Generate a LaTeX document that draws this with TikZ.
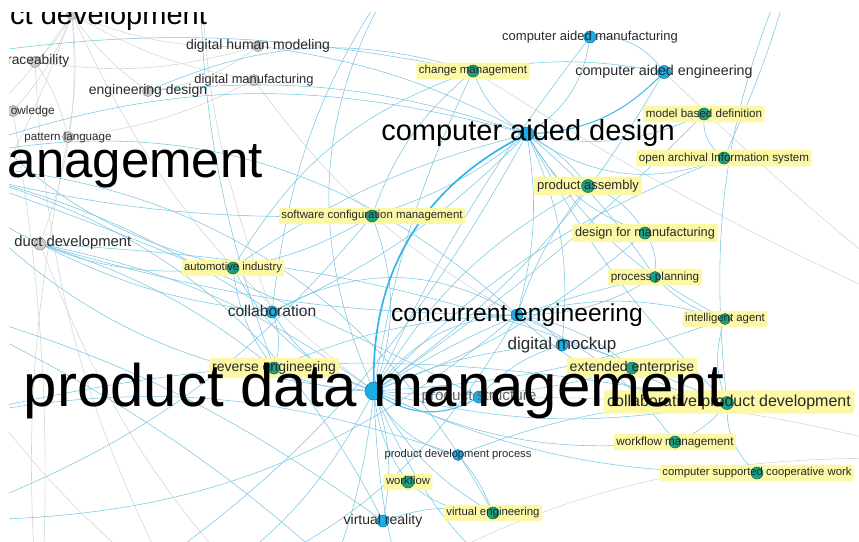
\documentclass[tikz,border=0pt]{standalone}
\usepackage{fontspec}
\setmainfont{Liberation Sans}
\definecolor{eblue}{RGB}{120,198,226}
\definecolor{egray}{RGB}{214,214,214}
\definecolor{nblue}{RGB}{30,172,228}
\definecolor{nteal}{RGB}{26,160,130}
\definecolor{ngray}{RGB}{205,205,205}
\definecolor{hly}{RGB}{252,248,165}
\definecolor{ltxt}{RGB}{40,40,40}
\tikzset{
  edge/.style={draw=eblue, line width=0.55pt},
  gedge/.style={draw=egray, line width=0.6pt},
  thickedge/.style={draw=nblue!90!white, line width=1.7pt},
  midedge/.style={draw=nblue!80!white, line width=1.1pt},
  dot/.style={circle, inner sep=0pt, minimum size=#1, line width=0.5pt},
  kwtext/.style={inner sep=0pt, text height=0.72em, text depth=0.2em, text=ltxt},
  hlbox/.style={fill=hly, text=hly, rounded corners=2pt, inner xsep=0.22em, inner ysep=0.26em, text height=0.72em, text depth=0.2em},
}
\newcommand\fs[1]{\fontsize{#1}{#1}\selectfont}
\def\kwmode{0}
% \KW{name}{x}{y}{diameter}{colour}{size}{label options}{text}{highlight}
\newcommand\KW[9]{%
  \ifcase\kwmode
    \coordinate (#1) at (#2,#3);%
  \or
    \ifnum#9=1 \node[node font=\fs{#6}, hlbox, at={(#1)}, #7] (#1-h) {#8};\fi
  \or
    \ifdim#4pt>0pt \node[dot=#4pt, fill=#5, draw=#5!65!black] (#1-c) at (#1) {};\fi
  \or
    \node[node font=\fs{#6}, kwtext, at={(#1)}, #7] (#1-l) {#8};%
  \fi}
\newcommand\kwlist{%
  \KW{pd}{72}{14}{11}{ngray}{29}{at={(10,16.5)}, anchor=west, text=black}{ct development}{0}%
  \KW{tr}{35}{62}{11}{ngray}{13.8}{at={(69.5,61)}, anchor=east}{raceability}{0}%
  \KW{kn}{13}{111}{11}{ngray}{11.8}{at={(55,111)}, anchor=east}{owledge}{0}%
  \KW{pl}{68}{137}{11}{ngray}{11.6}{}{pattern language}{0}%
  \KW{npd}{40}{244}{12}{ngray}{14.8}{at={(131.5,243)}, anchor=east}{duct development}{0}%
  \KW{dhm}{258}{46}{11}{ngray}{14}{}{digital human modeling}{0}%
  \KW{dm}{254}{80}{11}{ngray}{12.9}{}{digital manufacturing}{0}%
  \KW{ed}{148}{91}{11}{ngray}{14}{}{engineering design}{0}%
  \KW{cam}{590}{37}{12}{nblue}{13}{}{computer aided manufacturing}{0}%
  \KW{cae}{664}{72}{13}{nblue}{14.3}{}{computer aided engineering}{0}%
  \KW{dmu}{562}{345}{12}{nblue}{17}{}{digital mockup}{0}%
  \KW{collab}{272}{312}{12}{nblue}{15.6}{}{collaboration}{0}%
  \KW{pdp}{458}{455}{11}{nblue}{11.2}{}{product development process}{0}%
  \KW{vr}{383}{521}{12}{nblue}{14}{}{virtual reality}{0}%
  \KW{chm}{473}{71}{12}{nteal}{11.5}{}{change management}{1}%
  \KW{scm}{372}{216}{12}{nteal}{11.4}{}{software configuration management}{1}%
  \KW{mbd}{704}{114}{12}{nteal}{11.6}{}{model based definition}{1}%
  \KW{oais}{724}{158}{12}{nteal}{11.6}{}{open archival Information system}{1}%
  \KW{pa}{588}{186}{13}{nteal}{13}{}{product assembly}{1}%
  \KW{dfm}{645}{233}{12}{nteal}{12.7}{}{design for manufacturing}{1}%
  \KW{pp}{655}{277}{11}{nteal}{11.7}{}{process planning}{1}%
  \KW{ia}{725}{319}{11}{nteal}{11.4}{}{intelligent agent}{1}%
  \KW{ee}{632}{368}{12}{nteal}{14.1}{}{extended enterprise}{1}%
  \KW{cpd}{727}{403}{13}{nteal}{16}{at={(729,402)}}{collaborative product development}{1}%
  \KW{wm}{675}{442}{12}{nteal}{11.7}{}{workflow management}{1}%
  \KW{cscw}{757}{473}{12}{nteal}{11.3}{}{computer supported cooperative work}{1}%
  \KW{wf}{408}{482}{12}{nteal}{11.3}{}{workflow}{1}%
  \KW{ve}{493}{513}{12}{nteal}{11.4}{}{virtual engineering}{1}%
  \KW{ai}{233}{268}{12}{nteal}{11.3}{}{automotive industry}{1}%
  \KW{re}{274}{368}{12}{nteal}{14}{}{reverse engineering}{1}%
  \KW{ps}{479}{397}{12}{nblue}{15.3}{text=black!60}{product structure}{0}%
  \KW{ce}{517}{315}{12}{nblue}{24.6}{text=black}{concurrent engineering}{0}%
  \KW{cad}{527}{134}{14}{nblue}{29}{at={(528,133)}, text=black}{computer aided design}{0}%
  \KW{plm}{-74}{164}{0}{nblue}{51}{at={(7.5,164)}, anchor=west, text=black}{anagement}{0}%
  \KW{pdm}{374}{391}{18}{nblue}{60}{text=black}{product data management}{0}%
}
\newcommand\E[3]{\draw[edge] (#1) to[bend left=#3] (#2);}
\newcommand\G[3]{\draw[gedge] (#1) to[bend left=#3] (#2);}
\begin{document}
\begin{tikzpicture}[x=1pt,y=-1pt]
\useasboundingbox (0,0) rectangle (859,541);
\clip (9,12) rectangle (859,541);
\def\kwmode{0}\kwlist
% off-canvas ends
\coordinate (B1) at (300,640); \coordinate (B2) at (430,660);
\coordinate (B3) at (180,600); \coordinate (B4) at (600,640);
\coordinate (B5) at (-60,520); \coordinate (L1) at (-80,300);
\coordinate (L2) at (-60,420); \coordinate (T1) at (800,-60);
\coordinate (T2) at (420,-60); \coordinate (T3) at (200,-80);
\coordinate (R1) at (960,330); \coordinate (R2) at (950,460);
\coordinate (R3) at (940,560); \coordinate (B6) at (40,640);
\coordinate (L3) at (-70,60);
% grey links
\G{pd}{tr}{10}\G{pd}{kn}{10}\G{pd}{pl}{8}\G{pd}{ed}{-10}\G{pd}{dhm}{-12}
\G{pd}{dm}{-10}\G{pd}{npd}{12}\G{pd}{plm}{10}\G{pd}{L1}{8}\G{ed}{dhm}{-15}
\G{tr}{pl}{10}\G{kn}{plm}{10}\G{pl}{dm}{-10}\G{tr}{dhm}{-12}
\G{chm}{R1}{-4}\G{cae}{R1}{-3}\G{B1}{R2}{18}\G{B2}{R3}{14}\G{ps}{R2}{8}
\G{L1}{B3}{-10}\G{npd}{B1}{-12}\G{pl}{B6}{-8}\G{tr}{B3}{-12}\G{kn}{B6}{6}
\G{T3}{collab}{-10}\G{pd}{pdm}{-14}\G{dm}{ce}{-12}
% blue links
\E{pdm}{ce}{25}\E{pdm}{dmu}{10}\E{pdm}{ee}{-10}\E{pdm}{cpd}{-12}
\E{pdm}{wm}{-15}\E{pdm}{cscw}{-12}\E{pdm}{pdp}{-25}\E{pdm}{wf}{-15}
\E{pdm}{ve}{-15}\E{pdm}{vr}{15}\E{pdm}{re}{12}\E{pdm}{collab}{20}
\E{pdm}{ai}{20}\E{pdm}{scm}{-20}\E{pdm}{chm}{8}\E{pdm}{pa}{15}
\E{pdm}{dfm}{-10}\E{pdm}{pp}{10}\E{pdm}{ia}{-8}\E{pdm}{cae}{-12}
\E{pdm}{cam}{6}\E{pdm}{plm}{22}\E{pdm}{npd}{-12}\E{pdm}{oais}{12}
\E{pdm}{mbd}{-5}\E{pdm}{B1}{10}\E{pdm}{B2}{-10}\E{pdm}{B3}{15}
\E{pdm}{B4}{-20}\E{pdm}{T2}{30}
\E{cad}{cam}{-25}\E{cad}{chm}{20}\E{cad}{mbd}{-18}
\E{cad}{oais}{-28}\E{cad}{pa}{12}\E{cad}{dfm}{-20}\E{cad}{pp}{8}
\E{cad}{scm}{10}\E{cad}{ce}{12}\E{cad}{ed}{-12}\E{cad}{dhm}{-10}
\E{cad}{plm}{-18}\E{cad}{collab}{10}\E{cad}{ai}{-10}
\E{cad}{dmu}{15}\E{cad}{ia}{-15}\E{cad}{cpd}{-8}
\E{cam}{cae}{30}\E{chm}{cae}{10}\E{chm}{scm}{-15}\E{chm}{ai}{-20}
\E{chm}{ed}{-20}\E{chm}{L3}{-10}
\E{ce}{dmu}{20}\E{ce}{ee}{15}\E{ce}{cpd}{-20}\E{ce}{pp}{-15}
\E{ce}{ia}{15}\E{ce}{collab}{-30}\E{ce}{plm}{-28}\E{ce}{pa}{10}
\E{ce}{wm}{15}\E{ce}{re}{-10}
\E{cpd}{cscw}{-25}\E{cpd}{wm}{15}\E{cpd}{ee}{10}\E{cpd}{ia}{20}
\E{cpd}{T1}{15}\E{oais}{T1}{-5}
\E{dmu}{ps}{-15}\E{dmu}{ee}{15}\E{pa}{dfm}{20}\E{dfm}{pp}{20}
\E{oais}{mbd}{30}\E{pp}{ia}{-15}
\E{plm}{ai}{-25}\E{plm}{collab}{10}\E{plm}{scm}{-8}
\E{plm}{ve}{30}\E{plm}{vr}{25}\E{plm}{ps}{4}
\E{npd}{collab}{-10}\E{npd}{re}{10}\E{npd}{cpd}{10}\E{npd}{ce}{-8}
\E{collab}{re}{20}\E{ai}{re}{-15}\E{scm}{ai}{10}\E{vr}{ve}{15}
\E{wf}{ve}{-20}\E{pdp}{ve}{10}\E{pdp}{cpd}{10}
\E{L1}{vr}{10}\E{L2}{pdp}{15}\E{B5}{scm}{-15}\E{B5}{ce}{-20}
\E{L1}{B2}{10}\E{T2}{collab}{-15}\E{T3}{re}{-10}\E{B6}{cad}{-15}
\E{B3}{ce}{-20}\E{L2}{cpd}{12}\E{L3}{ai}{-20}
\draw[thickedge] (pdm) to[bend left=33] (cad);
\draw[midedge] (pdm) to[bend right=35] (ps);
\draw[midedge] (cad) to[bend right=22] (cae);
\def\kwmode{1}\kwlist
\def\kwmode{2}\kwlist
\def\kwmode{3}\kwlist
\end{tikzpicture}
\end{document}
